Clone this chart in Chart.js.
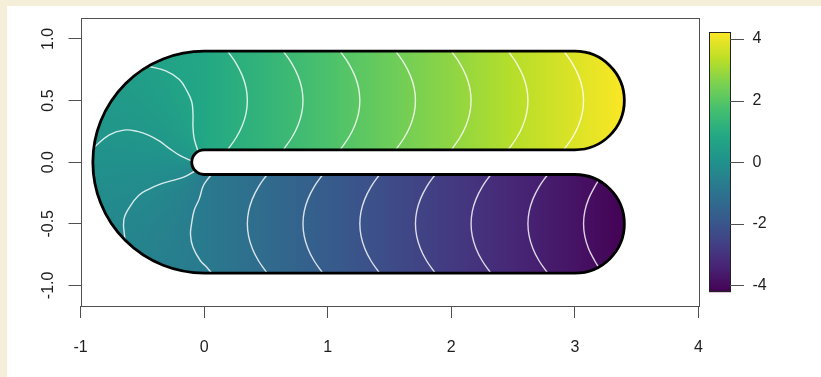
<!DOCTYPE html>
<html>
<head>
<meta charset="utf-8">
<script src="https://cdn.jsdelivr.net/npm/chart.js@4.4.1/dist/chart.umd.min.js"></script>
<style>
  html, body { margin: 0; padding: 0; width: 821px; height: 377px; overflow: hidden; background: #f5efd9; }
  #panel { position: absolute; left: 7px; top: 6px; width: 814px; height: 371px; background: #ffffff; }
  canvas { display: block; }
</style>
</head>
<body>
<div id="panel"><canvas id="horseshoe" width="814" height="371"></canvas></div>
<script>
// ---- axis ticks ----
const xTicks = [-1, 0, 1, 2, 3, 4];
const yTicks = [-1, -0.5, 0, 0.5, 1];
const barTicks = [-4, -2, 0, 2, 4];

// ---- colour key range ----
const zRange = [-4.22, 4.22];

// ---- surface values ----
// along the centre line of the two arms (by x)
const centreX        = [0, 0.5, 1, 1.5, 2, 2.5, 3, 3.4];
const upperArmValues = [0.79, 1.29, 1.79, 2.29, 2.79, 3.29, 3.79, 4.19];
const lowerArmValues = [-0.79, -1.29, -1.79, -2.29, -2.79, -3.29, -3.79, -4.19];
// around the left bend (angle in degrees, counter-clockwise from +x)
const bendAngles = [90, 135, 180, 225, 270];
const bendValues = [0.79, 0.39, 0, -0.39, -0.79];

// ---- domain shape ----
const armLength = 3;     // straight part of each arm
const bendRadius = 0.5;  // radius of the centre curve
const halfWidth = 0.4;   // half width of the strip

// ---- contour lines ----
const bendLevels = [0.68, 0.23, -0.23, -0.68];
const bendContours = [
  [[-0.05,0.09],[-0.08,0.19],[-0.09,0.29],[-0.09,0.39],[-0.10,0.49],[-0.14,0.58],[-0.20,0.67],[-0.31,0.74],[-0.46,0.78]],
  [[-0.10,0.01],[-0.19,0.05],[-0.28,0.11],[-0.36,0.17],[-0.45,0.22],[-0.54,0.25],[-0.65,0.26],[-0.77,0.22],[-0.89,0.12]],
  [[-0.07,-0.07],[-0.16,-0.12],[-0.26,-0.15],[-0.36,-0.18],[-0.45,-0.22],[-0.53,-0.27],[-0.60,-0.36],[-0.65,-0.47],[-0.64,-0.63]],
  [[0.06,-0.10],[0.02,-0.15],[-0.01,-0.20],[-0.04,-0.30],[-0.08,-0.39],[-0.10,-0.49],[-0.11,-0.59],[-0.09,-0.69],[-0.03,-0.80],[0.02,-0.85],[0.06,-0.90]]
];

const armY = [0.9, 0.8, 0.7, 0.6, 0.5, 0.4, 0.3, 0.2, 0.1];
const upperLevels = [1.13, 1.59, 2.04, 2.49, 2.95, 3.40, 3.85];
const upperContourX = [
  [0.19, 0.26, 0.31, 0.34, 0.35, 0.34, 0.31, 0.26, 0.19],
  [0.64, 0.71, 0.76, 0.79, 0.80, 0.79, 0.76, 0.71, 0.64],
  [1.10, 1.17, 1.22, 1.25, 1.26, 1.25, 1.22, 1.17, 1.10],
  [1.55, 1.62, 1.67, 1.70, 1.71, 1.70, 1.67, 1.62, 1.55],
  [2.00, 2.07, 2.12, 2.15, 2.16, 2.15, 2.12, 2.07, 2.00],
  [2.46, 2.53, 2.58, 2.61, 2.62, 2.61, 2.58, 2.53, 2.46],
  [2.91, 2.98, 3.03, 3.06, 3.07, 3.06, 3.03, 2.98, 2.91]
];

const lowerLevels = [-1.13, -1.59, -2.04, -2.49, -2.95, -3.40, -3.85];
const lowerContours = [
  [[0.51,-0.1],[0.44,-0.2],[0.39,-0.3],[0.36,-0.4],[0.35,-0.5],[0.36,-0.6],[0.39,-0.7],[0.44,-0.8],[0.51,-0.9]],
  [[0.96,-0.1],[0.89,-0.2],[0.84,-0.3],[0.81,-0.4],[0.80,-0.5],[0.81,-0.6],[0.84,-0.7],[0.89,-0.8],[0.96,-0.9]],
  [[1.42,-0.1],[1.35,-0.2],[1.30,-0.3],[1.27,-0.4],[1.26,-0.5],[1.27,-0.6],[1.30,-0.7],[1.35,-0.8],[1.42,-0.9]],
  [[1.87,-0.1],[1.80,-0.2],[1.75,-0.3],[1.72,-0.4],[1.71,-0.5],[1.72,-0.6],[1.75,-0.7],[1.80,-0.8],[1.87,-0.9]],
  [[2.32,-0.1],[2.25,-0.2],[2.20,-0.3],[2.17,-0.4],[2.16,-0.5],[2.17,-0.6],[2.20,-0.7],[2.25,-0.8],[2.32,-0.9]],
  [[2.78,-0.1],[2.71,-0.2],[2.66,-0.3],[2.63,-0.4],[2.62,-0.5],[2.63,-0.6],[2.66,-0.7],[2.71,-0.8],[2.78,-0.9]],
  [[3.19,-0.15],[3.16,-0.2],[3.11,-0.3],[3.08,-0.4],[3.07,-0.5],[3.08,-0.6],[3.11,-0.7],[3.16,-0.8],[3.19,-0.85]]
];

// ---- palette ----
const viridis = ['#440154','#482475','#414487','#355f8d','#2a788e','#21918c',
                 '#22a884','#44bf70','#7ad151','#bddf26','#fde725'];

const FONT = '"Liberation Sans", Arial, Helvetica, sans-serif';
const TEXT = '#1e1e1e';
const AXIS = '#505050';

function hexRgb(h) {
  return [parseInt(h.slice(1, 3), 16), parseInt(h.slice(3, 5), 16), parseInt(h.slice(5, 7), 16)];
}
const viridisRgb = viridis.map(hexRgb);

function colourFor(z) {
  let t = (z - zRange[0]) / (zRange[1] - zRange[0]);
  t = Math.max(0, Math.min(1, t));
  const pos = t * (viridisRgb.length - 1);
  const i = Math.min(Math.floor(pos), viridisRgb.length - 2);
  const f = pos - i;
  const a = viridisRgb[i], b = viridisRgb[i + 1];
  const c = a.map((v, k) => Math.round(v + (b[k] - v) * f));
  return `rgb(${c[0]},${c[1]},${c[2]})`;
}

// outline of the horseshoe in pixel space
function domainPath(chart) {
  const xs = chart.scales.x, ys = chart.scales.y;
  const X = v => xs.getPixelForValue(v), Y = v => ys.getPixelForValue(v);
  const kx = X(1) - X(0), ky = Y(0) - Y(1);
  const inner = bendRadius - halfWidth, outer = bendRadius + halfWidth;
  const p = new Path2D();
  p.moveTo(X(0), Y(outer));
  p.lineTo(X(armLength), Y(outer));
  p.ellipse(X(armLength), Y(bendRadius), halfWidth * kx, halfWidth * ky, 0, -Math.PI / 2, Math.PI / 2, false);
  p.lineTo(X(0), Y(inner));
  p.ellipse(X(0), Y(0), inner * kx, inner * ky, 0, -Math.PI / 2, -3 * Math.PI / 2, true);
  p.lineTo(X(armLength), Y(-inner));
  p.ellipse(X(armLength), Y(-bendRadius), halfWidth * kx, halfWidth * ky, 0, -Math.PI / 2, Math.PI / 2, false);
  p.lineTo(X(0), Y(-outer));
  p.ellipse(X(0), Y(0), outer * kx, outer * ky, 0, Math.PI / 2, 3 * Math.PI / 2, false);
  p.closePath();
  return p;
}

const surfacePlugin = {
  id: 'surface',
  beforeDatasetsDraw(chart) {
    const { ctx, chartArea: a } = chart;
    const xs = chart.scales.x, ys = chart.scales.y;
    const X = v => xs.getPixelForValue(v), Y = v => ys.getPixelForValue(v);
    const path = domainPath(chart);
    ctx.save();
    ctx.clip(path);

    // left bend: colour follows the angle around the origin
    const cx = X(0), cy = Y(0);
    if (typeof ctx.createConicGradient === 'function') {
      const cone = ctx.createConicGradient(0, cx, cy);
      bendAngles.forEach((deg, i) => cone.addColorStop(((360 - deg) % 360) / 360, colourFor(bendValues[i])));
      ctx.fillStyle = cone;
      ctx.fillRect(a.left, a.top, cx - a.left + 2, a.bottom - a.top);
    } else {
      const R = Math.max(cx - a.left, a.bottom - a.top) * 2;
      for (let i = 0; i < bendAngles.length - 1; i++) {
        const a0 = -bendAngles[i] * Math.PI / 180, a1 = -bendAngles[i + 1] * Math.PI / 180;
        const g = ctx.createLinearGradient(cx + R * Math.cos(a0), cy + R * Math.sin(a0), cx + R * Math.cos(a1), cy + R * Math.sin(a1));
        g.addColorStop(0, colourFor(bendValues[i]));
        g.addColorStop(1, colourFor(bendValues[i + 1]));
        ctx.beginPath();
        ctx.moveTo(cx, cy);
        ctx.arc(cx, cy, R, a0 + 0.01, a1 - 0.01, true);
        ctx.closePath();
        ctx.fillStyle = g;
        ctx.fill();
      }
    }

    // the two arms: colour follows x
    const x0 = X(centreX[0]), x1 = X(centreX[centreX.length - 1]);
    const up = ctx.createLinearGradient(x0, 0, x1, 0);
    const lo = ctx.createLinearGradient(x0, 0, x1, 0);
    centreX.forEach((v, i) => {
      const s = (X(v) - x0) / (x1 - x0);
      up.addColorStop(s, colourFor(upperArmValues[i]));
      lo.addColorStop(s, colourFor(lowerArmValues[i]));
    });
    ctx.fillStyle = up;
    ctx.fillRect(cx, a.top, a.right - cx, cy - a.top);
    ctx.fillStyle = lo;
    ctx.fillRect(cx, cy, a.right - cx, a.bottom - cy);
    ctx.restore();
  },
  afterDatasetsDraw(chart) {
    const { ctx } = chart;
    ctx.save();
    ctx.lineWidth = 2.8;
    ctx.lineJoin = 'round';
    ctx.strokeStyle = '#000000';
    ctx.stroke(domainPath(chart));
    ctx.restore();
  },
  afterDraw(chart) {
    const { ctx, chartArea: a } = chart;
    ctx.save();
    // plot frame
    ctx.strokeStyle = AXIS;
    ctx.lineWidth = 1;
    ctx.strokeRect(Math.round(a.left) + 0.5, Math.round(a.top) + 0.5,
                   Math.round(a.right) - Math.round(a.left), Math.round(a.bottom) - Math.round(a.top));

    // colour key
    const zs = chart.scales.bar;
    const bx = Math.round(a.right + 10), bw = 22;
    const top = zs.getPixelForValue(zRange[1]), bot = zs.getPixelForValue(zRange[0]);
    const g = ctx.createLinearGradient(0, bot, 0, top);
    viridis.forEach((c, i) => g.addColorStop(i / (viridis.length - 1), c));
    ctx.fillStyle = g;
    ctx.fillRect(bx, top, bw, bot - top);
    ctx.strokeStyle = '#222222';
    ctx.strokeRect(bx + 0.5, Math.round(top) + 0.5, bw - 1, Math.round(bot - top) - 1);
    ctx.strokeStyle = AXIS;
    ctx.beginPath();
    barTicks.forEach(v => {
      const y = Math.round(zs.getPixelForValue(v)) + 0.5;
      ctx.moveTo(bx + bw - 1, y);
      ctx.lineTo(bx + bw + 13, y);
    });
    ctx.stroke();
    ctx.restore();
  }
};

const contourStyle = {
  showLine: true,
  borderColor: 'rgba(255,255,255,0.82)',
  borderWidth: 1.4,
  pointRadius: 0,
  pointHoverRadius: 0,
  tension: 0.4,
  fill: false
};
const toPoints = path => path.map(([x, y]) => ({ x, y }));
const datasets = [
  ...bendContours.map((p, i) => ({ label: String(bendLevels[i]), data: toPoints(p), ...contourStyle })),
  ...upperContourX.map((xs, i) => ({ label: String(upperLevels[i]), data: xs.map((x, k) => ({ x, y: armY[k] })), ...contourStyle })),
  ...lowerContours.map((p, i) => ({ label: String(lowerLevels[i]), data: toPoints(p), ...contourStyle }))
];

const tickFont = { family: FONT, size: 16 };
const fixedTicks = list => scale => { scale.ticks = list.map(v => ({ value: v })); };
// vertical axes keep a fixed width and add no extra room above/below the plot
const fixedWidth = w => scale => { scale.width = w; scale.paddingTop = 0; scale.paddingBottom = 0; };

new Chart(document.getElementById('horseshoe'), {
  type: 'scatter',
  data: { datasets },
  options: {
    responsive: false,
    animation: false,
    devicePixelRatio: 1,
    events: [],
    layout: { padding: { top: 12.3, left: 0, right: 0, bottom: 0 } },
    plugins: { legend: { display: false }, tooltip: { enabled: false } },
    scales: {
      x: {
        type: 'linear', position: 'bottom', min: -1, max: 4,
        afterBuildTicks: fixedTicks(xTicks),
        afterFit: s => { s.height = 71; s.paddingLeft = 0; s.paddingRight = 0; },
        grid: { drawOnChartArea: false, drawTicks: true, tickLength: 12, color: AXIS, lineWidth: 1 },
        border: { display: false },
        ticks: { color: TEXT, font: tickFont, padding: 20, maxRotation: 0, autoSkip: false,
                 callback: v => String(v) }
      },
      y: {
        type: 'linear', position: 'left', min: -1.167, max: 1.167,
        afterBuildTicks: fixedTicks(yTicks),
        afterFit: fixedWidth(73.5),
        grid: { drawOnChartArea: false, drawTicks: true, tickLength: 12, color: AXIS, lineWidth: 1 },
        border: { display: false },
        ticks: { color: TEXT, font: tickFont, padding: 6, minRotation: 90, maxRotation: 90,
                 crossAlign: 'center', autoSkip: false, callback: v => v.toFixed(1) }
      },
      bar: {
        axis: 'y', type: 'linear', position: 'right', min: -4.668, max: 4.668,
        afterBuildTicks: fixedTicks(barTicks),
        afterFit: fixedWidth(122.5),
        grid: { display: false, drawTicks: false },
        border: { display: false },
        ticks: { color: TEXT, font: tickFont, padding: 54, autoSkip: false, callback: v => String(v) }
      }
    }
  },
  plugins: [surfacePlugin]
});
</script>
</body>
</html>
